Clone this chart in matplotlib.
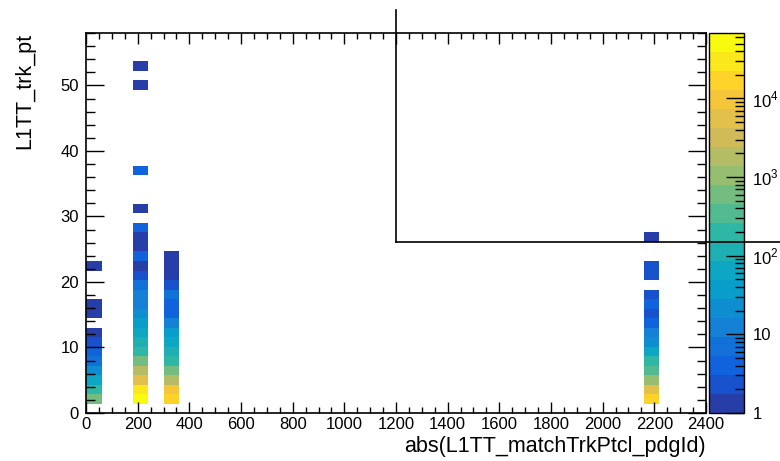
import numpy as np
import matplotlib
matplotlib.use("Agg")
import matplotlib.pyplot as plt
from matplotlib.colors import LinearSegmentedColormap, ListedColormap, LogNorm
from matplotlib.ticker import LogLocator, FixedLocator, FixedFormatter, MultipleLocator

plt.rcParams['font.family'] = ['Liberation Sans', 'DejaVu Sans']
plt.rcParams['mathtext.fontset'] = 'custom'
plt.rcParams['mathtext.rm'] = 'Liberation Sans'

# histogram binning (40 x 40, as TTree::Draw does)
x_edges = np.linspace(0, 2400, 41)
y_edges = np.linspace(0, 58, 41)
pt_bin = 58 / 40.

# counts per pt bin for each |pdgId| (bin index -> entries)
pdg_e = 11
bins_e = [1, 2, 3, 4, 5, 6, 7, 8, 10, 11, 15]
n_e = [600, 250, 70, 21, 9, 4, 2, 1, 1, 1, 1]

pdg_pi = 211
bins_pi = [1, 2, 3, 4, 5, 6, 7, 8, 9, 10, 11, 12, 13, 14, 15, 16, 17, 18, 19, 21, 25, 34, 36]
n_pi = [68000, 29000, 5500, 1400, 600, 200, 110, 65, 37, 21, 14, 12, 7, 2, 1, 4, 1, 1, 4, 1, 4, 1, 1]

pdg_k = 321
bins_k = [1, 2, 3, 4, 5, 6, 7, 8, 9, 10, 11, 12, 13, 14, 15, 16]
n_k = [17000, 9600, 1800, 600, 250, 110, 65, 37, 12, 4, 4, 7, 3, 1, 1, 1]

pdg_p = 2212
bins_p = [1, 2, 3, 4, 5, 6, 7, 8, 9, 10, 11, 12, 14, 15, 18]
n_p = [17000, 5500, 1050, 344, 150, 50, 21, 12, 4, 2, 4, 2, 2, 2, 1]

xs, ys, ws = [], [], []
for pdg, bl, nl in [(pdg_e, bins_e, n_e), (pdg_pi, bins_pi, n_pi),
                    (pdg_k, bins_k, n_k), (pdg_p, bins_p, n_p)]:
    for b, n in zip(bl, nl):
        xs.append(pdg)
        ys.append((b + 0.5) * pt_bin)
        ws.append(n)

H, _, _ = np.histogram2d(xs, ys, bins=[x_edges, y_edges], weights=ws)
H = np.ma.masked_equal(H.T, 0)

# ROOT kBird palette, 20 contours
stops = [0.0000, 0.1250, 0.2500, 0.3750, 0.5000, 0.6250, 0.7500, 0.8750, 1.0000]
red = [0.2082, 0.0592, 0.0780, 0.0232, 0.1802, 0.5301, 0.8186, 0.9956, 0.9764]
green = [0.1664, 0.3599, 0.5041, 0.6419, 0.7178, 0.7492, 0.7328, 0.7862, 0.9832]
blue = [0.5293, 0.8684, 0.8385, 0.7914, 0.6425, 0.4662, 0.3499, 0.1968, 0.0539]
bird = LinearSegmentedColormap.from_list(
    'bird', list(zip(stops, zip(red, green, blue))), N=255)
ncont = 20
cols = [bird(int((i + 0.99) * 255 / ncont) / 254.) for i in range(ncont)]
cmap = ListedColormap(cols)

fig = plt.figure(figsize=(7.8, 4.61), dpi=100)
fig.patch.set_facecolor('white')
ax = fig.add_axes([86 / 780, 48 / 461, 620 / 780, 380 / 461])
mesh = ax.pcolormesh(x_edges, y_edges, H, cmap=cmap,
                     norm=LogNorm(vmin=1, vmax=68000))
ax.set_xlim(0, 2400)
ax.set_ylim(0, 58)

ax.xaxis.set_major_locator(MultipleLocator(200))
ax.xaxis.set_minor_locator(MultipleLocator(50))
ax.yaxis.set_major_locator(MultipleLocator(10))
ax.yaxis.set_minor_locator(MultipleLocator(2))
ax.tick_params(axis='both', which='both', direction='in', top=True, right=True,
               width=1, labelsize=12)
ax.tick_params(axis='x', which='major', length=8, pad=3)
ax.tick_params(axis='x', which='minor', length=4)
ax.tick_params(axis='y', which='major', length=13, pad=5)
ax.tick_params(axis='y', which='minor', length=6.5)
for s in ax.spines.values():
    s.set_linewidth(1.2)

ax.set_xlabel('abs(L1TT_matchTrkPtcl_pdgId)', fontsize=15.5, loc='right', labelpad=3)
ax.set_ylabel('L1TT_trk_pt', fontsize=15.5, loc='top', labelpad=18)

# palette axis
cax = fig.add_axes([709 / 780, 48 / 461, 35 / 780, 380 / 461])
cb = fig.colorbar(mesh, cax=cax)
cb.outline.set_linewidth(1)
cax.yaxis.set_major_locator(FixedLocator([1, 10, 100, 1000, 10000]))
cax.yaxis.set_major_formatter(FixedFormatter(['1', '10', '$10^{2}$', '$10^{3}$', '$10^{4}$']))
cax.yaxis.set_minor_locator(LogLocator(base=10, subs=np.arange(2, 10)))
cax.tick_params(which='both', direction='in', width=1, labelsize=12, pad=6)
cax.tick_params(which='major', length=13)
cax.tick_params(which='minor', length=6.5)

# empty stats box outline
fig.add_artist(plt.Line2D([396 / 780, 396 / 780], [1 - 10 / 461, 1 - 242 / 461],
                          color='black', lw=1.2))
fig.add_artist(plt.Line2D([396 / 780, 1.0], [1 - 242 / 461, 1 - 242 / 461],
                          color='black', lw=1.2))

fig.savefig('out.png', dpi=100)
